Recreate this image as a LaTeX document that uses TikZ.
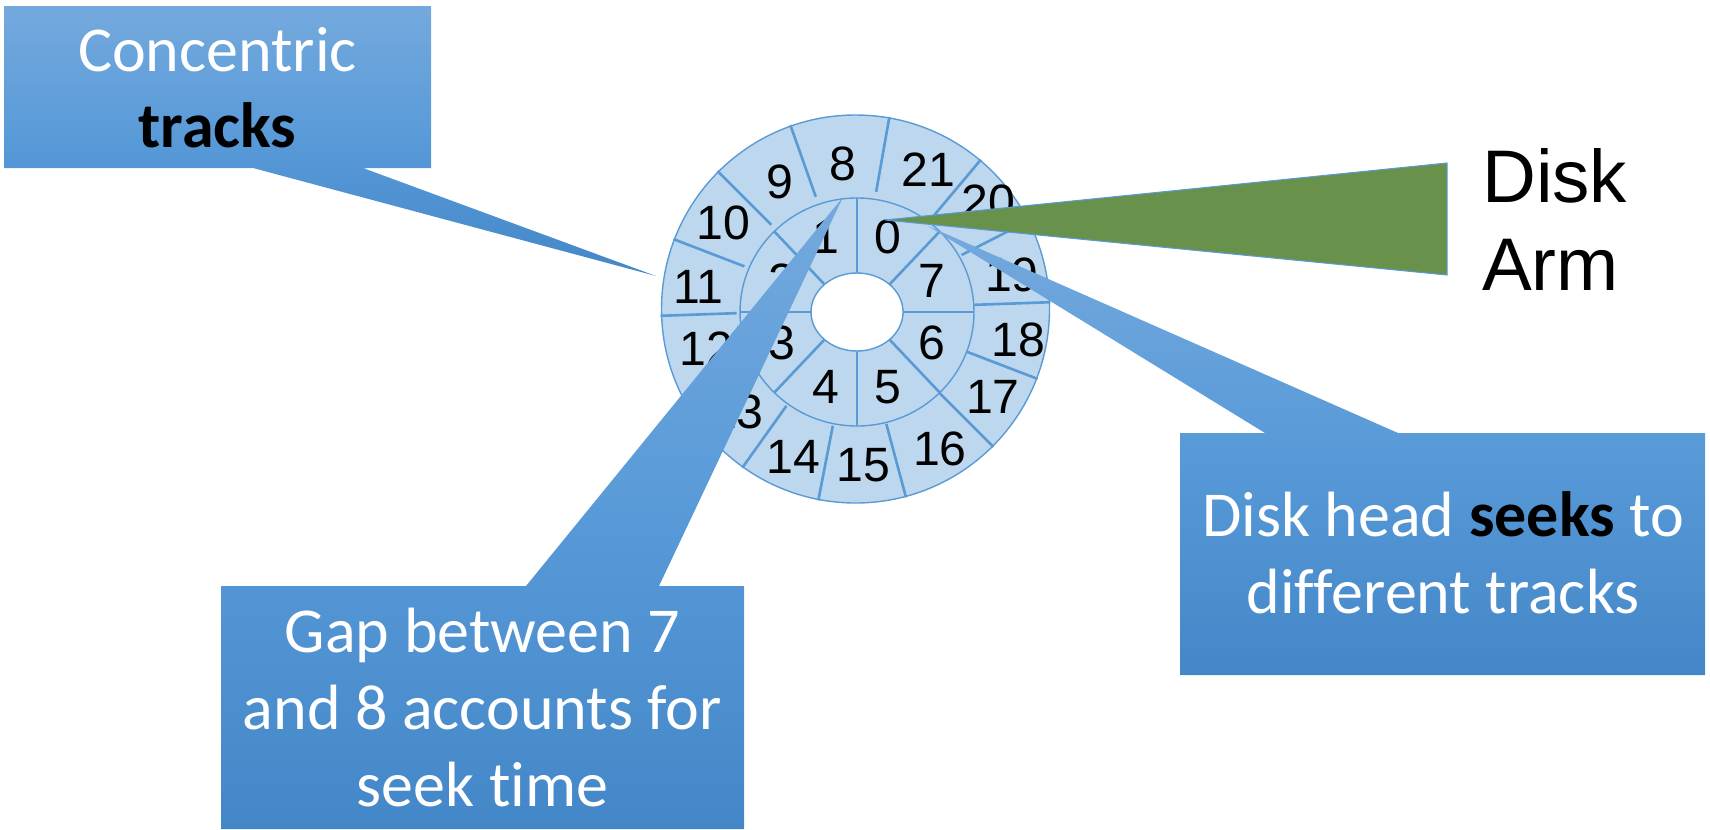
\documentclass[tikz,border=0pt]{standalone}
\usepackage{fontspec}
\setmainfont{Carlito}[Ligatures={NoCommon,NoContextual}]
\newfontfamily\arialfont{Liberation Sans}
\usepackage{tikz}
\usetikzlibrary{calc}
\definecolor{diskblue}{RGB}{189,215,238}
\definecolor{trackblue}{RGB}{91,155,213}
\definecolor{calltop}{RGB}{116,169,221}
\definecolor{callmid}{RGB}{88,154,216}
\definecolor{callbot}{RGB}{68,135,200}
\definecolor{armgreen}{RGB}{104,145,76}

\begin{document}
\begin{tikzpicture}[x=0.01cm, y=0.01cm,
    trackline/.style={draw=trackblue, line width=0.4pt},
    spoke/.style={trackblue, line width=0.75pt},
    secnum/.style={font=\arialfont\fontsize{13.7}{16}\selectfont, inner sep=0pt},
    callout/.style={top color=calltop, bottom color=callbot, middle color=callmid},
    calltext/.style={font=\fontsize{18.2}{21.8}\selectfont, text=white, align=center, inner sep=0pt}]
  \useasboundingbox (0,0) rectangle (1710,829);

  % platter with two tracks
  \coordinate (c) at (855.5,520);
  \coordinate (ci) at (857,517);
  \fill[diskblue] (c) circle (194);
  \draw[trackline] (c) circle (194);
  \draw[trackline] (ci) ellipse (117 and 114);
  \foreach \a in {2,27,50,80,109.5,135,159,182,208,234.5,259,285,315,339}
    \draw[spoke] ($(c)+(\a:119)$) -- ($(c)+(\a:195)$);
  \foreach \a in {0,45,...,315}
    \draw[spoke] ($(ci)+(\a:46 and 39)$) -- ($(ci)+(\a:117 and 114)$);
  \filldraw[fill=white, trackline] (ci) ellipse (46 and 39);

  % sector numbers
  \foreach \n in {0,...,7}
    \node[secnum] (sec\n) at ($(ci)+(\n*45+67.5:81)$) {\n};
  \foreach \n/\a/\r in {8/94.8/146, 9/120.7/148, 10/147/157.5, 11/171.9/158.8,
      12/194.8/154, 13/220.9/156.8, 14/247.2/160, 15/272.9/156, 16/301.2/163,
      17/327.5/163, 18/349.2/166, 19/12.3/160, 20/38.9/171, 21/62.4/157}
    \node[secnum] (sec\n) at ($(c)+(\a:\r)$) {\n};

  % callouts
  \shade[callout] (4,823) -- (431,823) -- (431,661) -- (363,661) -- (656,553)
    -- (253,661) -- (4,661) -- cycle;
  \node[calltext] (tracks) at (217.5,741.4) {Concentric\\{\color{black}\textbf{tracks}}};

  \shade[callout] (1180,396) -- (1265,396) -- (928,603) -- (1398,396) -- (1705,396)
    -- (1705,154) -- (1180,154) -- cycle;
  \node[calltext] (seeks) at (1443,276.5) {Disk head {\color{black}\textbf{seeks}} to\\different tracks};

  \shade[callout] (221,243) -- (526,243) -- (843,632) -- (659,243) -- (744,243)
    -- (744,0) -- (221,0) -- cycle;
  \node[calltext] (gap) at (482.5,121.6) {Gap between 7\\and 8 accounts for\\seek time};

  % arm
  \filldraw[fill=armgreen, draw=trackblue, line width=0.3pt] (885,609) -- (1447,666) -- (1447,554) -- cycle;
  \node[font=\arialfont\fontsize{21.2}{25.1}\selectfont, align=left, anchor=north west, inner sep=0pt]
    (arm) at (1481.5,681.6) {Disk\\Arm};
\end{tikzpicture}
\end{document}
